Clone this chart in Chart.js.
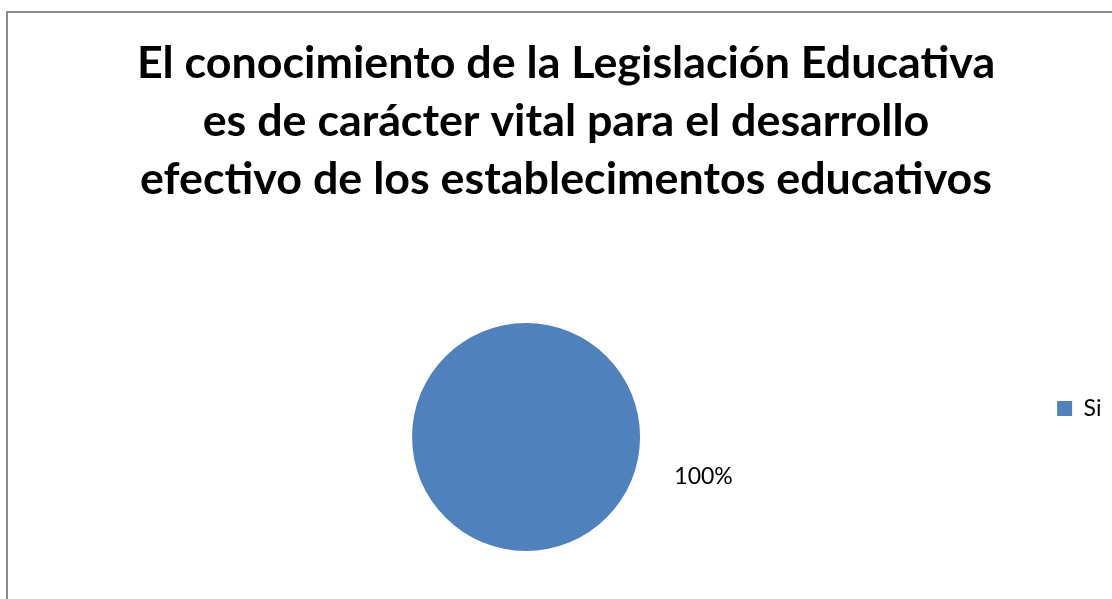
<!DOCTYPE html>
<html>
<head>
<meta charset="utf-8">
<script src="https://cdn.jsdelivr.net/npm/chart.js@4.4.1/dist/chart.umd.min.js"></script>
<style>
  html, body { margin: 0; padding: 0; background: #fff; }
  body { width: 1112px; height: 599px; overflow: hidden; position: relative; }
  #frame {
    position: absolute; left: 6px; top: 11px;
    width: 1130px; height: 620px;
    border: 2px solid #8c8c8c;
  }
  #chart { position: absolute; left: 8px; top: 13px; }
</style>
</head>
<body>
<div id="frame"></div>
<canvas id="chart" width="1116" height="600"></canvas>
<script>
const titleLines = [
  "El conocimiento de la Legislación Educativa",
  "es de carácter vital para el desarrollo",
  "efectivo de los establecimentos educativos"
];
const categories = ["Si"];
const values = [100];
const colors = ["#4F81BD"];

// label sits just outside the pie, a little below its right edge
const labelAngle = 12.5 * Math.PI / 180;
const labelDistance = 1.595;

const percentLabels = {
  id: "percentLabels",
  afterDatasetsDraw(chart) {
    const ctx = chart.ctx;
    const meta = chart.getDatasetMeta(0);
    const total = values.reduce((a, b) => a + b, 0);
    ctx.save();
    ctx.font = "23px Lato";
    ctx.fillStyle = "#000";
    ctx.textAlign = "center";
    ctx.textBaseline = "middle";
    meta.data.forEach((arc, i) => {
      const r = arc.outerRadius * labelDistance;
      const x = arc.x + Math.cos(labelAngle) * r;
      const y = arc.y + Math.sin(labelAngle) * r;
      ctx.fillText(Math.round(values[i] / total * 100) + "%", x, y);
    });
    ctx.restore();
  }
};

const chart = new Chart(document.getElementById("chart"), {
  type: "pie",
  data: {
    labels: categories,
    datasets: [{
      data: values,
      backgroundColor: colors,
      borderWidth: 0,
      hoverOffset: 0
    }]
  },
  options: {
    responsive: false,
    animation: false,
    events: [],
    layout: {
      padding: { left: 12.5, right: 12.5, top: 0, bottom: 62 }
    },
    plugins: {
      title: {
        display: true,
        text: titleLines,
        color: "#000",
        font: { family: "Lato", weight: "bold", size: 44.8, lineHeight: "58px" },
        padding: { top: 21.5, bottom: 114.5 }
      },
      legend: {
        position: "right",
        align: "start",
        fullSize: false,
        title: {
          display: true,
          text: "",
          font: { size: 12, lineHeight: 1.2 },
          padding: { top: 0, bottom: 34 }
        },
        labels: {
          boxWidth: 15,
          boxHeight: 15,
          padding: 25.5,
          color: "#000",
          font: { family: "Lato", size: 23 }
        }
      },
      tooltip: { enabled: false }
    }
  },
  plugins: [percentLabels]
});
</script>
</body>
</html>
